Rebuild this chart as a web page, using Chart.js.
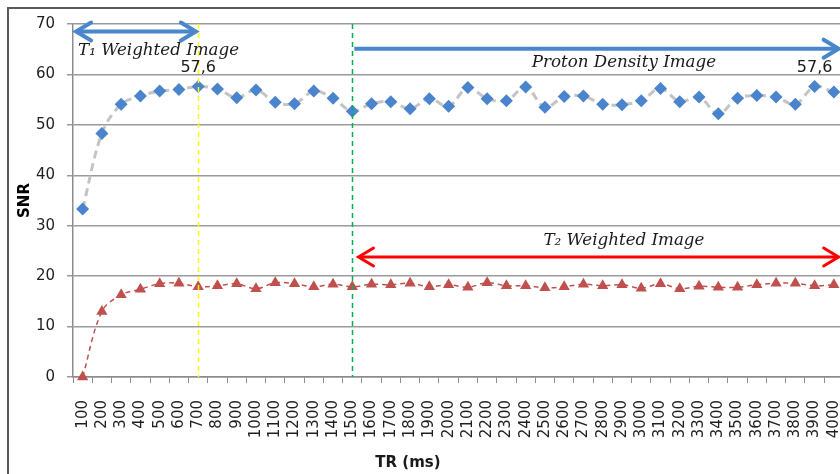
<!DOCTYPE html>
<html><head><meta charset="utf-8">
<script src="https://cdn.jsdelivr.net/npm/chart.js@4/dist/chart.umd.min.js"></script>
<style>
html,body{margin:0;padding:0;background:#fff;overflow:hidden;width:840px;height:474px}
canvas{display:block}
</style></head><body>
<canvas id="c" width="850" height="474"></canvas>
<script>
const trLabels = ['100','200','300','400','500','600','700','800','900','1000',
  '1100','1200','1300','1400','1500','1600','1700','1800','1900','2000',
  '2100','2200','2300','2400','2500','2600','2700','2800','2900','3000',
  '3100','3200','3300','3400','3500','3600','3700','3800','3900','4000'];
const snrPD = [33.3,48.3,54.1,55.7,56.7,57.0,57.6,57.1,55.4,56.9,
  54.5,54.2,56.7,55.3,52.7,54.2,54.6,53.2,55.2,53.7,
  57.4,55.2,54.8,57.5,53.5,55.6,55.7,54.1,54.0,54.8,
  57.2,54.6,55.5,52.2,55.3,55.8,55.5,54.1,57.6,56.5];
const snrT2 = [0,13.0,16.3,17.4,18.5,18.6,17.9,18.1,18.5,17.5,
  18.7,18.5,17.9,18.4,17.9,18.4,18.3,18.6,17.9,18.3,
  17.8,18.7,18.1,18.1,17.7,17.9,18.4,18.1,18.3,17.6,
  18.5,17.5,18.0,17.8,17.8,18.3,18.6,18.6,18.1,18.3];
const yTicks = [0,10,20,30,40,50,60,70];
const labelledPoints = [6, 38];          // indices with "57,6" data labels
const boundaryT1 = '700';                 // end of T1 weighted range
const boundaryPD = '1500';                // start of PD / T2 weighted range
const xTitle = 'TR (ms)';
const yTitle = 'SNR';

// region annotations in data units (category index, SNR value)
const spans = [
  {from:-0.39, to:5.93, y:68.5, color:'#4a86cc', width:4, heads:'both'},
  {from:14, to:39.3, y:65.1, color:'#4a86cc', width:4, heads:'end'},
  {from:14.27, to:39.3, y:23.8, color:'#ff0000', width:3, heads:'both'}
];
const spanTexts = [
  {text:'T\u2081 Weighted Image', x:-0.24, y:64.7, align:'left'},
  {text:'Proton Density Image', x:28.1, y:62.4, align:'center'},
  {text:'T\u2082 Weighted Image', x:28.1, y:27.0, align:'center'}
];

const frame = {
  id:'frame',
  beforeDraw(chart){
    const ctx = chart.ctx;
    ctx.save();
    ctx.strokeStyle = '#5a5a5a'; ctx.lineWidth = 2;
    ctx.beginPath(); ctx.moveTo(8, chart.height); ctx.lineTo(8, 8); ctx.lineTo(chart.width, 8); ctx.stroke();
    ctx.restore();
  }
};

const annot = {
  id:'annot',
  afterDatasetsDraw(chart){
    const ctx = chart.ctx, xs = chart.scales.x, ys = chart.scales.y;
    const top = ys.getPixelForValue(70), bot = ys.getPixelForValue(0);
    ctx.save();
    [[boundaryT1,'#ffff00'],[boundaryPD,'#00b050']].forEach(([c,col])=>{
      const px = Math.round(xs.getPixelForValue(trLabels.indexOf(c)))+0.5;
      ctx.strokeStyle = col; ctx.lineWidth = 1.5; ctx.setLineDash([5,4]);
      ctx.beginPath(); ctx.moveTo(px, top); ctx.lineTo(px, bot); ctx.stroke();
    });
    ctx.setLineDash([]);
    spans.forEach(s=>{
      const x1 = xs.getPixelForValue(s.from), x2 = xs.getPixelForValue(s.to), y = ys.getPixelForValue(s.y);
      ctx.strokeStyle = s.color; ctx.lineWidth = s.width; ctx.lineCap='butt'; ctx.lineJoin='miter';
      ctx.beginPath(); ctx.moveTo(x1+2,y); ctx.lineTo(x2-2,y); ctx.stroke();
      const hl = 16, hh = 9;
      ctx.lineCap='round';
      if (s.heads==='both'){
        ctx.beginPath(); ctx.moveTo(x1+hl,y-hh); ctx.lineTo(x1+1,y); ctx.lineTo(x1+hl,y+hh); ctx.stroke();
      }
      ctx.beginPath(); ctx.moveTo(x2-hl,y-hh); ctx.lineTo(x2-1,y); ctx.lineTo(x2-hl,y+hh); ctx.stroke();
    });
    ctx.fillStyle = '#1a1a1a';
    ctx.font = 'italic 16.7px "DejaVu Serif"';
    ctx.textBaseline = 'middle';
    spanTexts.forEach(t=>{
      ctx.textAlign = t.align;
      ctx.fillText(t.text, xs.getPixelForValue(t.x), ys.getPixelForValue(t.y));
    });
    const meta = chart.getDatasetMeta(0);
    ctx.font = '16px "DejaVu Sans"';
    ctx.textAlign = 'center';
    labelledPoints.forEach(i=>{
      const p = meta.data[i];
      ctx.fillText(snrPD[i].toFixed(1).replace('.',','), p.x, p.y-19);
    });
    ctx.font = 'bold 15px "DejaVu Sans"';
    ctx.fillText(xTitle, chart.chartArea.left + 335, chart.height - 11);
    ctx.restore();
  }
};

new Chart(document.getElementById('c'), {
  type:'line',
  data:{
    labels: trLabels,
    datasets:[
      {data:snrPD, borderColor:'#c4c4c4', borderWidth:3, borderDash:[8,5], tension:0.35,
       pointStyle:'rectRot', pointRadius:6.5, pointBackgroundColor:'#4a84cc', pointBorderColor:'#4a84cc', pointBorderWidth:0, clip:false},
      {data:snrT2, borderColor:'#c0504d', borderWidth:1.5, borderDash:[5,4], tension:0.35,
       pointStyle:'triangle', pointRadius:6.5, pointBackgroundColor:'#c0504d', pointBorderColor:'#c0504d', pointBorderWidth:0, clip:false}
    ]
  },
  options:{
    responsive:false, animation:false, devicePixelRatio:1,
    layout:{padding:{left:8, top:24, right:5, bottom:0}},
    plugins:{legend:{display:false}, tooltip:{enabled:false}},
    scales:{
      x:{
        offset:true,
        grid:{display:true, drawOnChartArea:false, drawTicks:true, tickLength:6, color:'#8c8c8c', offset:true},
        border:{color:'#8c8c8c', width:1.5},
        ticks:{minRotation:90, maxRotation:90, autoSkip:false, padding:17, color:'#1f1f1f', font:{family:'DejaVu Sans', size:15}},
        afterFit(s){ s.height = 97; s.paddingLeft = 0; s.paddingRight = 0; }
      },
      y:{
        min:0, max:70,
        afterBuildTicks(s){ s.ticks = yTicks.map(v=>({value:v})); },
        grid:{color:'#9a9a9a', lineWidth:1.5, tickLength:6},
        border:{color:'#8c8c8c', width:1.5},
        ticks:{padding:12, color:'#1f1f1f', font:{family:'DejaVu Sans', size:15}},
        title:{display:true, text:yTitle, color:'#000', font:{family:'DejaVu Sans', size:15, weight:'bold'}, padding:{top:8,bottom:0}},
        afterFit(s){ s.width = 65; s.paddingTop = 0; s.paddingBottom = 0; }
      }
    }
  },
  plugins:[frame, annot]
});
</script>
</body></html>
